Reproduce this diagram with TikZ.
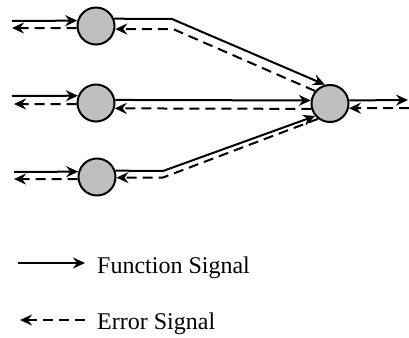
\documentclass[tikz,border=0pt]{standalone}
\usepackage{fontspec}
\setmainfont{Liberation Serif}
\usetikzlibrary{arrows.meta}
\begin{document}
\begin{tikzpicture}[x=1pt,y=-1pt,
  neuron/.style={circle,draw,line width=2pt,fill=black!25,minimum size=37pt,inner sep=0pt},
  fsig/.style={line width=2pt,-{Stealth[length=12pt,width=11pt,inset=4pt]}},
  esig/.style={line width=2pt,dash pattern=on 10pt off 6pt,-{Stealth[length=12pt,width=11pt,inset=4pt]}},
  lbl/.style={font=\fontsize{24}{28}\selectfont,anchor=base west,inner sep=0pt}]
\useasboundingbox (0,0) rectangle (409,337);
\node[neuron] (n1) at (96,26) {};
\node[neuron] (n2) at (96,103) {};
\node[neuron] (n3) at (97,177) {};
\node[neuron] (n4) at (330,103.5) {};
% top
\coordinate (a1) at (12,21);
\coordinate (b1) at (12,28);
\coordinate (k1) at (172,19);
\coordinate (m1) at (173,29);
\draw[fsig] (a1) -- (n1.164);
\draw[esig] (n1.186) -- (b1);
\draw[fsig] (n1.22) -- (k1) -- (n4.105);
\draw[esig] (n4.140) -- (m1) -- (n1.-9);
% middle
\coordinate (a2) at (12,96);
\coordinate (b2) at (14,104);
\draw[fsig] (a2) -- (n2.158);
\draw[esig] (n2.183) -- (b2);
\draw[fsig] (n2.9) -- (n4.171);
\draw[esig] (n4.196) -- (n2.-16);
% right
\coordinate (c4) at (408,100);
\coordinate (d4) at (409,108);
\draw[fsig] (n4.9) -- (c4);
\draw[esig] (d4) -- (n4.-14);
% bottom
\coordinate (a3) at (14,172);
\coordinate (b3) at (14,179);
\coordinate (k3) at (163,171);
\coordinate (m3) at (163,177.5);
\draw[fsig] (a3) -- (n3.164);
\draw[esig] (n3.186) -- (b3);
\draw[fsig] (n3.19) -- (k3) -- (n4.220);
\draw[esig] (n4.232) -- (m3) -- (n3.-2);
% legend
\coordinate (f0) at (18,263);
\coordinate (f1) at (85,263);
\draw[fsig] (f0) -- (f1);
\node[lbl] (ft) at (97,273) {Function Signal};
\coordinate (e0) at (85,320);
\coordinate (e1) at (20,320);
\draw[esig] (e0) -- (e1);
\node[lbl] (et) at (97,329) {Error Signal};
\end{tikzpicture}
\end{document}
